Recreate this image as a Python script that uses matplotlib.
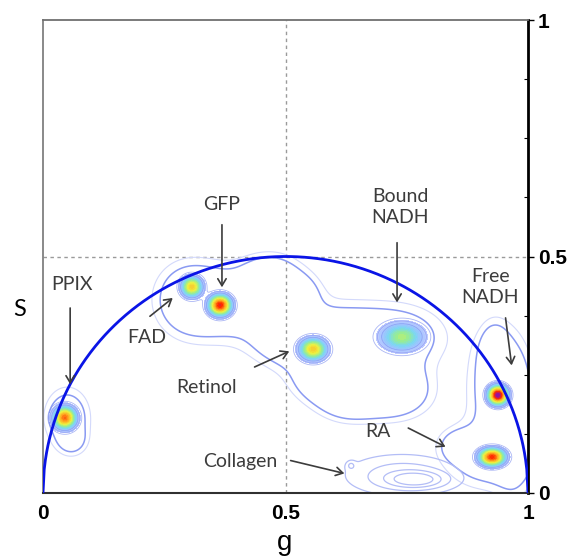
import numpy as np
import matplotlib
matplotlib.use("Agg")
import matplotlib.pyplot as plt
from matplotlib.colors import LinearSegmentedColormap
from matplotlib.ticker import MultipleLocator

# ---- data: fluorophore spots (phasor coordinates) ----
spot_names = ["PPIX", "FAD", "GFP", "Retinol", "Bound NADH", "Free NADH", "RA"]
spot_g     = [0.045, 0.307, 0.365, 0.557, 0.740, 0.938, 0.926]
spot_s     = [0.159, 0.436, 0.397, 0.304, 0.330, 0.207, 0.076]
spot_wg    = [0.014, 0.013, 0.014, 0.017, 0.027, 0.012, 0.016]
spot_ws    = [0.014, 0.013, 0.013, 0.014, 0.018, 0.012, 0.011]
spot_peak  = [0.78, 0.60, 0.88, 0.60, 0.40, 1.00, 0.86]

# ---- data: broad low-density regions (outer contours) ----
bg_g   = [0.30, 0.38, 0.47, 0.53, 0.50, 0.60, 0.72, 0.66, 0.58, 0.72, 0.63, 0.94, 0.92, 0.86, 0.97, 0.93, 0.05, 0.06]
bg_s   = [0.41, 0.40, 0.46, 0.42, 0.33, 0.32, 0.33, 0.24, 0.24, 0.21, 0.20, 0.22, 0.08, 0.10, 0.15, 0.30, 0.16, 0.11]
bg_wg  = [0.045, 0.06, 0.04, 0.03, 0.05, 0.06, 0.07, 0.07, 0.04, 0.05, 0.04, 0.04, 0.06, 0.025, 0.025, 0.02, 0.03, 0.02]
bg_ws  = [0.05, 0.05, 0.03, 0.03, 0.04, 0.05, 0.045, 0.04, 0.03, 0.035, 0.03, 0.07, 0.045, 0.02, 0.10, 0.04, 0.04, 0.02]
bg_amp = [1.0, 1.0, 1.0, 0.8, 1.0, 1.0, 1.0, 1.0, 0.8, 1.0, 0.9, 1.0, 1.0, 0.8, 0.8, 0.8, 1.0, 0.6]

# ---- data: collagen (faint) ----
col_g   = [0.74, 0.77, 0.635]
col_s   = [0.038, 0.028, 0.058]
col_wg  = [0.075, 0.04, 0.006]
col_ws  = [0.028, 0.012, 0.006]
col_amp = [1.0, 1.5, 0.6]

# ---- data: annotations (text g, text s, arrow start g,s, arrow end g,s) ----
ann_text = ["PPIX", "FAD", "GFP", "Retinol", "Bound\nNADH", "Free\nNADH", "RA", "Collagen"]
ann_tg   = [0.060, 0.214, 0.369, 0.338, 0.736, 0.922, 0.691, 0.406]
ann_ts   = [0.440, 0.328, 0.609, 0.222, 0.605, 0.436, 0.129, 0.066]
ann_ag0  = [0.056, 0.216, 0.369, 0.431, 0.730, 0.953, 0.748, 0.505]
ann_as0  = [0.397, 0.370, 0.573, 0.264, 0.535, 0.376, 0.140, 0.070]
ann_ag1  = [0.056, 0.272, 0.369, 0.513, 0.730, 0.967, 0.835, 0.627]
ann_as1  = [0.224, 0.416, 0.429, 0.302, 0.397, 0.264, 0.095, 0.040]

tick_vals = [0, 0.5, 1]
tick_labels = ["0", "0.5", "1"]

# ---- figure ----
fig = plt.figure(figsize=(5.75, 5.6), dpi=100)
ax = fig.add_axes([43/575, 1-493/560, 485/575, 473/560])

G, S = np.meshgrid(np.linspace(0, 1, 500), np.linspace(0, 1, 500))

def field(gs, ss, wgs, wss, amps):
    Z = np.zeros_like(G)
    for g0, s0, wg, ws, a in zip(gs, ss, wgs, wss, amps):
        Z += a * np.exp(-0.5 * (((G - g0) / wg) ** 2 + ((S - s0) / ws) ** 2))
    return Z

F = field(spot_g, spot_s, spot_wg, spot_ws, spot_peak)
B = field(bg_g, bg_s, bg_wg, bg_ws, bg_amp)
C = field(col_g, col_s, col_wg, col_ws, col_amp)

# outer contours
ax.contour(G, S, B + F, levels=[0.28], colors="#d3d9fb", linewidths=0.8, zorder=1)
ax.contour(G, S, B + F, levels=[0.5], colors="#8a9af2", linewidths=1.1, zorder=2)
ax.contour(G, S, C, levels=[0.3, 0.7, 1.2, 1.7], colors="#b3bdf6", linewidths=0.9, zorder=2)

# spot filled (jet-like)
cmap = LinearSegmentedColormap.from_list("spot", [
    (0.0, "#c4ccff"), (0.1, "#9cc4ff"), (0.2, "#7ad8f0"), (0.32, "#96ec96"),
    (0.48, "#eef240"), (0.68, "#ffa820"), (0.85, "#ff2a00"), (1.0, "#8a10b0")])
ax.contourf(G, S, F, levels=np.linspace(0.06, 1.0, 30), cmap=cmap,
            vmin=0.06, vmax=1.0, zorder=3, extend="max")
ax.contour(G, S, F, levels=[0.035, 0.07, 0.12],
           colors="#8797f0", linewidths=0.6, alpha=0.7, zorder=4)

# universal semicircle
gc = np.linspace(0, 1, 400)
ax.plot(gc, np.sqrt(np.clip(0.25 - (gc - 0.5) ** 2, 0, None)), color="#0a14e6", lw=2.0, zorder=6)

# dashed guides
ax.axvline(0.5, color="#9a9a9a", lw=1.0, ls=(0, (2.5, 2.5)), zorder=0)
ax.axhline(0.5, color="#9a9a9a", lw=1.0, ls=(0, (2.5, 2.5)), zorder=0)

# annotations
for t, tg, ts, g0, s0, g1, s1 in zip(ann_text, ann_tg, ann_ts, ann_ag0, ann_as0, ann_ag1, ann_as1):
    ax.text(tg, ts, t, ha="center", va="center", fontsize=14, family="Lato",
            color="#3c3c3c", linespacing=1.25, zorder=8)
    ax.annotate("", xy=(g1, s1), xytext=(g0, s0),
                arrowprops=dict(arrowstyle="->,head_length=0.5,head_width=0.3",
                                color="#3c3c3c", lw=1.2), zorder=8)

ax.set_xlim(0, 1)
ax.set_ylim(0, 1)
ax.set_xticks(tick_vals)
ax.set_xticklabels(tick_labels)
ax.yaxis.tick_right()
ax.set_yticks(tick_vals)
ax.set_yticklabels(tick_labels)
ax.yaxis.set_minor_locator(MultipleLocator(0.125))
for lab in ax.get_xticklabels() + ax.get_yticklabels():
    lab.set_family("Liberation Sans")
    lab.set_fontweight("bold")
    lab.set_fontsize(15)
ax.tick_params(axis="x", length=0, pad=8)
ax.tick_params(axis="y", which="major", length=4, direction="out", pad=3, width=1)
ax.tick_params(axis="y", which="minor", length=3, direction="in", width=0.8)

ax.spines["left"].set_color("#808080")
ax.spines["left"].set_linewidth(1.3)
ax.spines["top"].set_color("#707070")
ax.spines["top"].set_linewidth(1.3)
ax.spines["bottom"].set_color("#303030")
ax.spines["bottom"].set_linewidth(1.5)
ax.spines["right"].set_color("black")
ax.spines["right"].set_linewidth(2.0)

fig.text(285/575, 1-543/560, "g", ha="center", va="center", fontsize=20, family="Liberation Sans")
fig.text(20/575, 1-310/560, "S", ha="center", va="center", fontsize=17, family="Lato")

fig.savefig("out.png", dpi=100)
